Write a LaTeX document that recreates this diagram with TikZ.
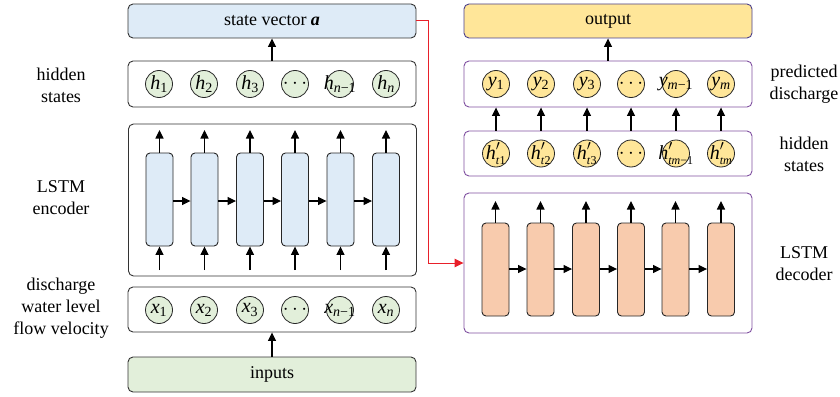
\documentclass[tikz,border=0pt]{standalone}
\usepackage{fontspec}
\setmainfont{Liberation Serif}
\usetikzlibrary{arrows.meta}
\definecolor{bluefill}{HTML}{DEEBF7}
\definecolor{greenfill}{HTML}{E2EFDA}
\definecolor{goldfill}{HTML}{FFE699}
\definecolor{peachfill}{HTML}{F8CBAD}
\definecolor{purpleline}{HTML}{7F4FA0}
\definecolor{navyline}{HTML}{4B3F8C}
\definecolor{redline}{HTML}{E8202A}
\newcommand{\hp}[1]{$\textit{h}^{\prime}_{\mbox{\fontsize{12}{13}\selectfont #1}}$}
\begin{document}
\begin{tikzpicture}[x=1pt,y=-1pt,
  every node/.style={font=\fontsize{18}{22}\selectfont},
  panel/.style={draw=black!80, rounded corners=5pt, line width=0.9pt, minimum width=288pt, inner sep=0pt},
  rpanel/.style={panel, draw=purpleline},
  cell/.style={draw=black!85, rounded corners=4pt, line width=0.9pt, minimum width=27pt, minimum height=93pt, inner sep=0pt},
  dot/.style={circle, draw=black!85, line width=0.8pt, minimum size=27pt, inner sep=0pt, font=\fontsize{20}{22}\selectfont},
  arr/.style={-{Triangle[length=8.5pt,width=8pt]}, line width=1.1pt},
  lbl/.style={align=center}
]
\useasboundingbox (0,0) rectangle (840,396);

% ---------- left column ----------
\node[panel, fill=bluefill, minimum height=34pt] (sv) at (272,21) {state vector \textbf{\textit{a}}};
\node[panel, minimum height=46pt] (hbox) at (272,84) {};
\node[panel, minimum height=152pt] (enc) at (272.5,200) {};
\node[panel, minimum height=45pt] (xbox) at (272,309.5) {};
\node[panel, fill=greenfill, minimum height=35pt] (inp) at (272,374.5) {inputs};

\foreach \i/\x/\t in {1/159/\textit{h}\textsubscript{1}, 2/204/\textit{h}\textsubscript{2}, 3/250/\textit{h}\textsubscript{3}, 4/295/$\cdots$, 5/340/\textit{h}\textsubscript{\textit{n}−1}, 6/386/\textit{h}\textsubscript{\textit{n}}}
  \node[dot, fill=greenfill] (h\i) at (\x,84) {\makebox[0pt]{\t}};
\foreach \i/\x/\t in {1/159/\textit{x}\textsubscript{1}, 2/204/\textit{x}\textsubscript{2}, 3/250/\textit{x}\textsubscript{3}, 4/295/$\cdots$, 5/340/\textit{x}\textsubscript{\textit{n}−1}, 6/386/\textit{x}\textsubscript{\textit{n}}}
  \node[dot, fill=greenfill] (x\i) at (\x,310) {\makebox[0pt]{\t}};

\foreach \i/\x in {1/159.5,2/204.5,3/250,4/295,5/340.5,6/386}{
  \node[cell, fill=bluefill] (e\i) at (\x,199.5) {};
  \coordinate (et\i) at (\x,130);
  \coordinate (eb\i) at (\x,270);
  \draw[arr] (e\i.north) -- (et\i);
  \draw[arr] (eb\i) -- (e\i.south);
}
\foreach \i [evaluate=\i as \j using int(\i+1)] in {1,...,5}
  \draw[arr] (e\i.east |- 0,201) -- (e\j.west |- 0,201);

\draw[arr] (hbox.north) -- (sv.south);
\draw[arr] (inp.north) -- (xbox.south);

\node[lbl] (lh) at (61,85) {hidden\\states};
\node[lbl] (le) at (61,198) {LSTM\\encoder};
\node[lbl] (lx) at (61,308) {discharge\\water level\\flow velocity};

% ---------- right column ----------
\node[panel, draw=navyline, fill=goldfill, minimum height=34pt] (out) at (608,21) {output};
\node[rpanel, minimum height=46pt] (ybox) at (608,84) {};
\node[rpanel, minimum height=45pt] (hpbox) at (608,153.5) {};
\node[rpanel, minimum height=140pt] (dec) at (608,263) {};

\foreach \i/\x/\t in {1/496/\textit{y}\textsubscript{1}, 2/541/\textit{y}\textsubscript{2}, 3/587/\textit{y}\textsubscript{3}, 4/631/$\cdots$, 5/676/\textit{y}\textsubscript{\textit{m}−1}, 6/721/\textit{y}\textsubscript{\textit{m}}}
  \node[dot, fill=goldfill] (y\i) at (\x,84) {\makebox[0pt]{\t}};
\foreach \i/\x/\t in {1/496/\hp{\textit{t}1}, 2/541/\hp{\textit{t}2}, 3/587/\hp{\textit{t}3}, 4/631/$\cdots$, 5/676/\hp{\textit{tm}−1}, 6/721/\hp{\textit{tm}}}
  \node[dot, fill=goldfill] (hp\i) at (\x,153.5) {\makebox[0pt]{\t}};
\foreach \i in {1,...,6}
  \draw[arr] (hp\i.north |- hpbox.north) -- (y\i.south |- ybox.south);

\foreach \i/\x in {1/495.5,2/540.5,3/586,4/631,5/675.5,6/721}{
  \node[cell, fill=peachfill] (d\i) at (\x,269.5) {};
  \coordinate (dt\i) at (\x,201);
  \draw[arr] (d\i.north) -- (dt\i);
}
\foreach \i [evaluate=\i as \j using int(\i+1)] in {1,...,5}
  \draw[arr] (d\i.east |- 0,269) -- (d\j.west |- 0,269);

\draw[arr] (ybox.north) -- (out.south);

\node[lbl] (lp) at (804,84) {predicted\\discharge};
\node[lbl] (lhs) at (804,154) {hidden\\states};
\node[lbl] (ld) at (804,264) {LSTM\\decoder};

% ---------- red connector ----------
\draw[redline, line width=1pt, -{Triangle[length=9pt,width=8.5pt]}] (sv.east) -- ++(12,0) |- (dec.west);
\end{tikzpicture}
\end{document}
